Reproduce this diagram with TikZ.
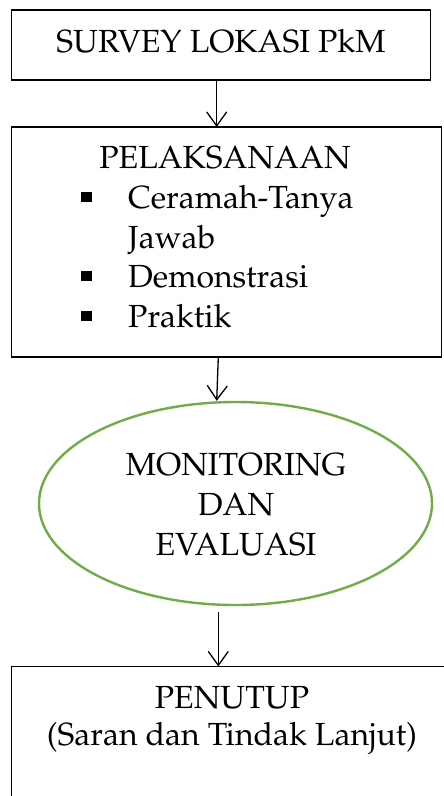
\documentclass[tikz,border=0pt]{standalone}
\usepackage[T1]{fontenc}
\usepackage{mathpazo}
\usetikzlibrary{arrows.meta,shapes.geometric}
\definecolor{egreen}{HTML}{70AD47}
\begin{document}
\begin{tikzpicture}[x=1pt,y=-1pt,
  box/.style={draw=black,line width=1.1pt,rectangle,inner sep=0pt,outer sep=0pt},
  txt/.style={anchor=base,inner sep=0pt,font=\fontsize{32}{40}\selectfont},
  itm/.style={anchor=base west,inner sep=0pt,font=\fontsize{32}{40}\selectfont},
  bul/.style={fill=black,inner sep=0pt,minimum width=11pt,minimum height=10.5pt,rectangle},
  arr/.style={line width=1.3pt,-{Straight Barb[length=14pt,width=20pt,line width=1.3pt]}}]
\useasboundingbox (0,0) rectangle (444,796);
\clip (0,0) rectangle (444,796);
% boxes
\node[box,minimum width=419pt,minimum height=70pt] (b1) at (221,45) {};
\node[box,minimum width=430pt,minimum height=230pt] (b2) at (226.5,242) {};
\node[draw=egreen,line width=2.4pt,ellipse,inner sep=0pt,minimum width=393pt,minimum height=203pt] (ell) at (235.5,503.5) {};
\node[box,minimum width=445pt,minimum height=160pt,anchor=north west] (b4) at (11.5,666.5) {};
% texts
\node[txt] (t1) at (221,52) {SURVEY LOKASI PkM};
\node[txt] (t2) at (225,168) {PELAKSANAAN};
\node[itm] (i1) at (128,208) {Ceramah-Tanya};
\node[itm] (i1b) at (128,248) {Jawab};
\node[itm] (i2) at (128,287) {Demonstrasi};
\node[itm] (i3) at (128,327) {Praktik};
\node[bul] (s1) at (86,197) {};
\node[bul] (s2) at (86,276) {};
\node[bul] (s3) at (86,316) {};
\node[txt] (m1) at (236,475) {MONITORING};
\node[txt] (m2) at (236,515) {DAN};
\node[txt] (m3) at (236,555) {EVALUASI};
\node[txt] (p1) at (232,708) {PENUTUP};
\node[txt] (p2) at (232,745) {(Saran dan Tindak Lanjut)};
% arrows
\draw[arr] ([xshift=-4.3pt]b1.south) -- ([xshift=-9.8pt]b2.north);
\draw[arr] ([xshift=-8.2pt]b2.south) -- ([xshift=-18.8pt]ell.north);
\draw[arr] ([xshift=-17.2pt,yshift=-6pt]ell.south) -- ([xshift=206.8pt]b4.north west);
\end{tikzpicture}
\end{document}
